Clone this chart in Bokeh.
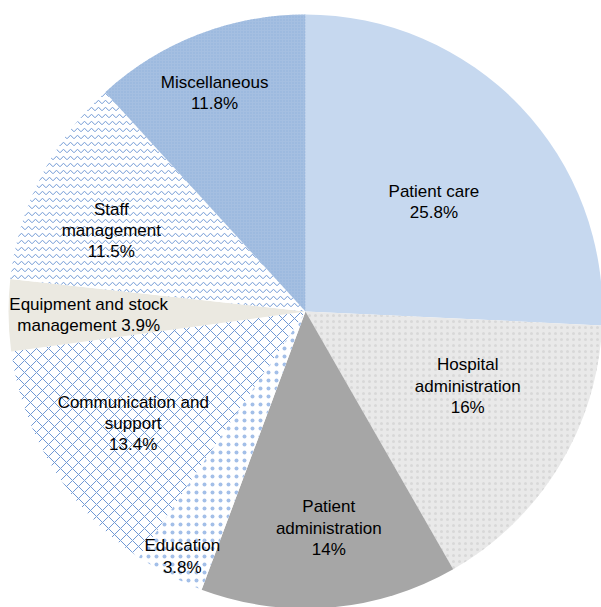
import numpy as np
from bokeh.plotting import figure
from bokeh.models import ColumnDataSource, Range1d
from bokeh.core.properties import value
from bokeh.embed import file_html
from bokeh.resources import INLINE

# ---- data ----
names = ["Patient care", "Hospital\nadministration", "Patient\nadministration", "Education",
         "Communication and\nsupport", "Equipment and stock\nmanagement", "Staff\nmanagement",
         "Miscellaneous"]
percents = [25.8, 16, 14, 3.8, 13.4, 3.9, 11.5, 11.8]
pct_labels = ["25.8%", "16%", "14%", "3.8%", "13.4%", "3.9%", "11.5%", "11.8%"]

# ---- styles ----
fill_colors = ["#c6d8ef", "#e9e9e9", "#a6a6a6", "#ffffff", "#ffffff", "#ebe9e1", "#ffffff", "#a5bfe1"]
hatch_patterns = [" ", "dot", " ", "dot", "diagonal_cross", " ", "horizontal_wave", "dot"]
hatch_colors = ["#c6d8ef", "#d8d8d8", "#a6a6a6", "#a3bfe8", "#6f98d4", "#ebe9e1", "#6f98d4", "#90b0dc"]
hatch_scales = [4, 6, 4, 8, 12, 4, 7, 3]
hatch_weights = [1, 0.8, 1, 0.6, 1, 1, 1, 1]
label_r = [0.57, 0.60, 0.73, 0.92, 0.69, 0.73, 0.71, 0.80]
label_dang = [3, -7, -1.5, -0.5, -1, 0, -4, -1.3]   # degrees, clockwise tweak
sep = ["\n", "\n", "\n", "\n", "\n", " ", "\n", "\n"]

W, H = 601, 607
cx, cy, R = 305, 296, 297

vals = np.array(percents, dtype=float)
frac = vals / vals.sum()
cum = np.concatenate([[0], np.cumsum(frac)])
start = np.pi / 2 - cum[:-1] * 2 * np.pi
end = np.pi / 2 - cum[1:] * 2 * np.pi
mid = (start + end) / 2 - np.radians(label_dang)

src = ColumnDataSource(dict(start=start, end=end, fill=fill_colors, hp=hatch_patterns,
                            hc=hatch_colors, hs=hatch_scales, hw=hatch_weights))

p = figure(width=W, height=H, output_backend="svg", toolbar_location=None,
           x_range=Range1d(0, W), y_range=Range1d(0, H), min_border=0)
p.axis.visible = False
p.grid.visible = False
p.outline_line_color = None
p.background_fill_color = "white"

p.wedge(x=cx, y=cy, radius=R, start_angle="start", end_angle="end", direction="clock",
        fill_color="fill", hatch_pattern="hp", hatch_color="hc", hatch_scale="hs",
        hatch_weight="hw", line_color=None, source=src)

lx = cx + np.array(label_r) * R * np.cos(mid)
ly = cy + np.array(label_r) * R * np.sin(mid) - 1
texts = [n + s + v for n, s, v in zip(names, sep, pct_labels)]
texts[5] = names[5] + " " + pct_labels[5]
lsrc = ColumnDataSource(dict(x=lx, y=ly, t=texts))
p.text(x="x", y="y", text="t", source=lsrc, text_align="center", text_baseline="middle",
       text_font=value("Liberation Sans"), text_font_size="17px", text_color="black",
       text_line_height=1.12)

open("out.html", "w").write(file_html(p, INLINE))
